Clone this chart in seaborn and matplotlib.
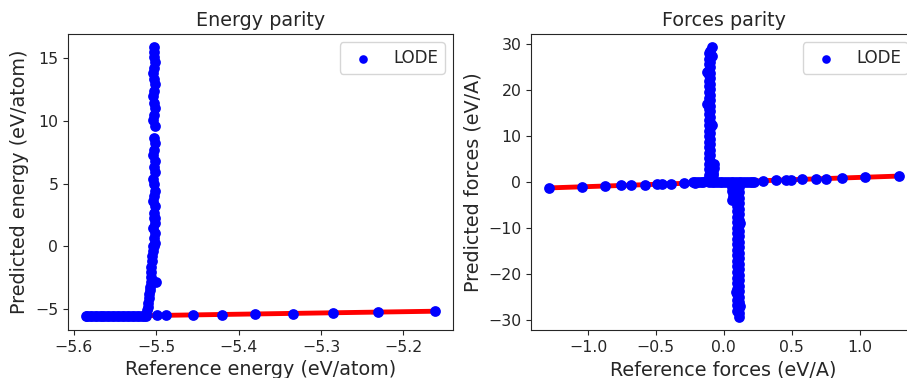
import matplotlib
matplotlib.use("Agg")
import matplotlib.pyplot as plt
import seaborn as sns
import pandas as pd

# ---------------- Energy data (eV/atom) ----------------
energy_ref_flat = [-5.586, -5.584, -5.581, -5.578, -5.575, -5.572, -5.569, -5.566,
                   -5.563, -5.560, -5.557, -5.554, -5.551, -5.548, -5.545, -5.542,
                   -5.539, -5.536, -5.533, -5.530, -5.527, -5.524, -5.521, -5.518,
                   -5.515, -5.513]
energy_pred_flat = [-5.58, -5.57, -5.58, -5.56, -5.57, -5.58, -5.57, -5.56,
                    -5.58, -5.57, -5.56, -5.58, -5.57, -5.56, -5.58, -5.57,
                    -5.56, -5.57, -5.58, -5.56, -5.57, -5.55, -5.56, -5.57,
                    -5.55, -5.54]
energy_ref_spike = [-5.512, -5.511, -5.510, -5.510, -5.509, -5.509, -5.508, -5.508,
                    -5.507, -5.507, -5.506, -5.506, -5.505, -5.505, -5.504, -5.504,
                    -5.503, -5.501, -5.503, -5.502, -5.504, -5.502, -5.503, -5.501,
                    -5.503, -5.502, -5.504, -5.503, -5.501, -5.503, -5.504, -5.502,
                    -5.503, -5.502, -5.504, -5.503, -5.502, -5.503, -5.502, -5.504,
                    -5.503, -5.502, -5.503, -5.504, -5.503, -5.502, -5.503, -5.504,
                    -5.503, -5.502, -5.503, -5.503, -5.503, -5.500, -5.499]
energy_pred_spike = [-5.4, -5.1, -4.8, -4.5, -4.1, -3.8, -3.5, -3.2,
                     -2.8, -2.4, -2.0, -1.6, -1.2, -0.8, -0.4, 0.0,
                     0.0, 0.3, 0.7, 1.1, 1.5, 1.9, 2.3, 2.3,
                     2.7, 3.2, 3.6, 4.0, 4.4, 5.0, 5.4, 5.9,
                     6.3, 6.8, 7.3, 7.7, 8.2, 8.6, 9.6, 10.1,
                     10.5, 11.0, 11.4, 12.0, 12.4, 12.9, 13.3, 13.8,
                     14.2, 14.7, 15.1, 15.5, 15.85, -2.8, -5.5]
energy_ref_diag = [-5.488, -5.455, -5.420, -5.380, -5.334, -5.285, -5.231, -5.161]
energy_pred_diag = [-5.50, -5.49, -5.43, -5.40, -5.35, -5.31, -5.25, -5.18]

# ---------------- Forces data (eV/A) ----------------
force_ref_diag = [-1.291, -1.043, -0.873, -0.760, -0.681, -0.578, -0.494, -0.457,
                  -0.386, -0.290, -0.209, 0.288, 0.382, 0.455, 0.497, 0.573,
                  0.677, 0.756, 0.869, 1.041, 1.287]
force_pred_diag = [-1.29, -1.04, -0.87, -0.76, -0.68, -0.58, -0.49, -0.46,
                   -0.39, -0.29, -0.21, 0.29, 0.38, 0.45, 0.50, 0.57,
                   0.68, 0.76, 0.87, 1.04, 1.29]
force_ref_flat = [-0.23, -0.21, -0.19, -0.17, -0.15, -0.13, -0.11, -0.09, -0.07,
                  -0.05, -0.03, -0.01, 0.01, 0.03, 0.05, 0.07, 0.09, 0.11,
                  0.13, 0.15, 0.17, 0.19, 0.21, 0.22]
force_pred_flat = [-0.1, 0.0, 0.1, -0.1, 0.0, 0.2, 0.1, 0.0, -0.1,
                   0.0, 0.1, 0.0, 0.0, -0.1, 0.1, 0.0, -0.1, 0.0,
                   0.1, 0.0, -0.1, 0.0, 0.1, 0.0]
force_ref_up = [-0.11, -0.10, -0.11, -0.10, -0.11, -0.10, -0.11, -0.10, -0.11,
                -0.10, -0.11, -0.10, -0.11, -0.10, -0.11, -0.10, -0.11, -0.10,
                -0.11, -0.10, -0.11, -0.10, -0.11, -0.10, -0.11, -0.10, -0.11,
                -0.10, -0.11, -0.10, -0.11, -0.10, -0.11, -0.10, -0.11, -0.10,
                -0.11, -0.10, -0.11, -0.10, -0.11, -0.10, -0.11, -0.10, -0.11,
                -0.10, -0.11, -0.10, -0.09, -0.09, -0.08, -0.07, -0.07, -0.08,
                -0.12, -0.09, -0.12, -0.09]
force_pred_up = [0.4, 1.0, 1.6, 2.2, 2.8, 3.4, 4.0, 4.6, 5.2,
                 5.8, 6.4, 7.0, 7.6, 8.2, 8.8, 9.4, 10.0, 10.6,
                 11.2, 11.8, 12.4, 13.0, 13.6, 14.2, 14.8, 15.4, 16.0,
                 16.6, 17.2, 17.8, 18.4, 19.0, 19.6, 20.2, 20.8, 21.4,
                 22.0, 22.6, 23.2, 23.8, 24.4, 25.0, 25.6, 26.2, 26.8,
                 27.4, 28.0, 28.6, 29.3, 1.0, 2.0, 3.0, 4.0, 1.5,
                 24.0, 27.5, 17.0, 12.5]
force_ref_dn = [0.10, 0.11, 0.10, 0.11, 0.10, 0.11, 0.10, 0.11, 0.10,
                0.11, 0.10, 0.11, 0.10, 0.11, 0.10, 0.11, 0.10, 0.11,
                0.10, 0.11, 0.10, 0.11, 0.10, 0.11, 0.10, 0.11, 0.10,
                0.11, 0.10, 0.11, 0.10, 0.11, 0.10, 0.11, 0.10, 0.11,
                0.10, 0.11, 0.10, 0.11, 0.10, 0.11, 0.10, 0.11, 0.10,
                0.11, 0.10, 0.11, 0.11, 0.06, 0.06, 0.07, 0.06, 0.08,
                0.12, 0.09, 0.12]
force_pred_dn = [-0.4, -1.0, -1.6, -2.2, -2.8, -3.4, -4.0, -4.6, -5.2,
                 -5.8, -6.4, -7.0, -7.6, -8.2, -8.8, -9.4, -10.0, -10.6,
                 -11.2, -11.8, -12.4, -13.0, -13.6, -14.2, -14.8, -15.4, -16.0,
                 -16.6, -17.2, -17.8, -18.4, -19.0, -19.6, -20.2, -20.8, -21.4,
                 -22.0, -22.6, -23.2, -23.8, -24.4, -25.0, -25.6, -26.2, -26.8,
                 -27.4, -28.0, -28.6, -29.3, -1.0, -2.0, -3.0, -4.0, -2.5,
                 -9.0, -24.0, -27.0]

energy_ref = energy_ref_flat + energy_ref_spike + energy_ref_diag
energy_pred = energy_pred_flat + energy_pred_spike + energy_pred_diag
force_ref = force_ref_diag + force_ref_flat + force_ref_up + force_ref_dn
force_pred = force_pred_diag + force_pred_flat + force_pred_up + force_pred_dn

sns.set_style("ticks")
plt.rcParams["font.family"] = ["DejaVu Sans"]
plt.rcParams["font.size"] = 11.3
plt.rcParams["axes.labelsize"] = 13.8
plt.rcParams["axes.titlesize"] = 13.8
plt.rcParams["xtick.labelsize"] = 11.3
plt.rcParams["ytick.labelsize"] = 11.3
plt.rcParams["legend.fontsize"] = 12

fig = plt.figure(figsize=(9.07, 3.78), dpi=100)
W, H = 907, 378
ax1 = fig.add_axes([68 / W, 48 / H, 385 / W, 296 / H])
ax2 = fig.add_axes([531 / W, 48 / H, 385 / W, 296 / H])


def parity(ax, ref, pred, title, xlabel, ylabel):
    lo, hi = min(ref), max(ref)
    line = pd.DataFrame({"x": [lo, hi], "y": [lo, hi]})
    sns.lineplot(data=line, x="x", y="y", ax=ax, color="red", linewidth=3.5,
                 zorder=1, legend=False)
    df = pd.DataFrame({"ref": ref, "pred": pred})
    sns.scatterplot(data=df, x="ref", y="pred", ax=ax, color="blue", s=60,
                    linewidth=0, label="LODE", zorder=2)
    ax.set_title(title)
    ax.set_xlabel(xlabel)
    ax.set_ylabel(ylabel)
    ax.legend(loc="upper right", markerscale=0.8)


parity(ax1, energy_ref, energy_pred, "Energy parity",
       "Reference energy (eV/atom)", "Predicted energy (eV/atom)")
parity(ax2, force_ref, force_pred, "Forces parity",
       "Reference forces (eV/A)", "Predicted forces (eV/A)")

ax1.set_xticks([-5.6, -5.5, -5.4, -5.3, -5.2])
ax1.set_yticks([-5, 0, 5, 10, 15])
ax2.set_xticks([-1.0, -0.5, 0.0, 0.5, 1.0])
ax2.set_yticks([-30, -20, -10, 0, 10, 20, 30])

fig.savefig("out.png", dpi=100)
